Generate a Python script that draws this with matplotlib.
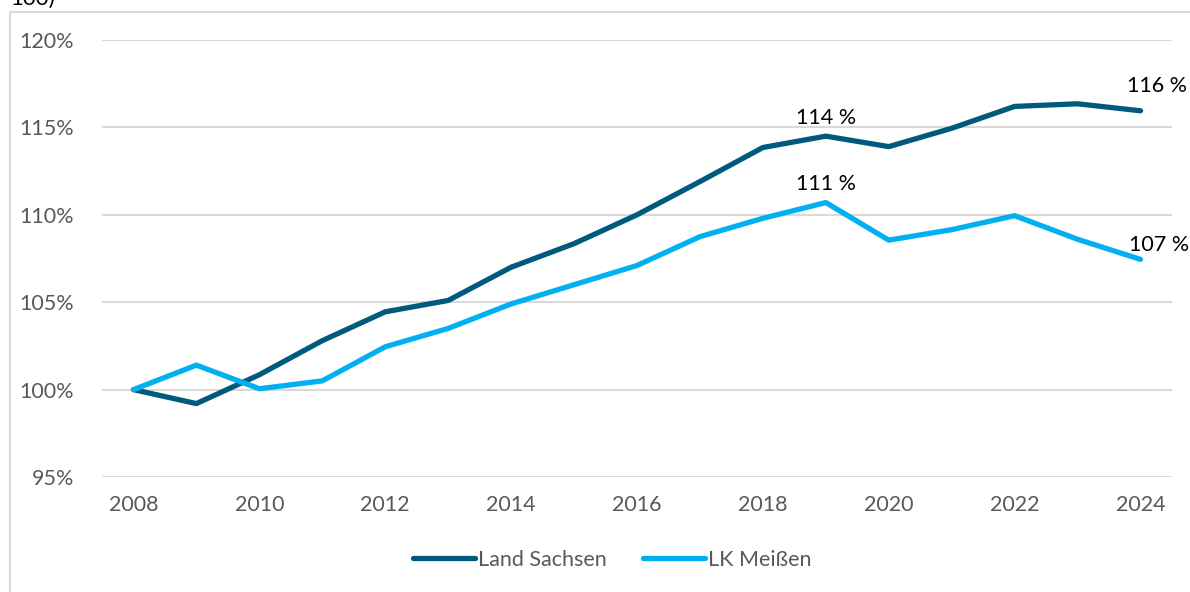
import matplotlib.pyplot as plt
from matplotlib.patches import Rectangle

# data
years = list(range(2008, 2025))
sachsen = [100.0, 99.2, 100.85, 102.8, 104.45, 105.1, 107.0, 108.35, 110.0,
           111.9, 113.85, 114.5, 113.9, 114.95, 116.2, 116.35, 115.95]
meissen = [100.0, 101.4, 100.05, 100.5, 102.45, 103.5, 104.9, 106.0, 107.1,
           108.75, 109.8, 110.7, 108.55, 109.15, 109.95, 108.6, 107.45]
series_names = ['Land Sachsen', 'LK Meißen']
yticks = [95, 100, 105, 110, 115, 120]
xticks = list(range(2008, 2025, 2))
# labelled points: (series, year, text)
labels = [('sachsen', 2019, '114 %'), ('meissen', 2019, '111 %'),
          ('sachsen', 2024, '116 %'), ('meissen', 2024, '107 %')]

plt.rcParams['font.family'] = ['Lato', 'DejaVu Sans']

dark = '#005a7d'
light = '#00b0f0'
gray_txt = '#595959'
fs = 15.5

W, H = 1190, 592
fig = plt.figure(figsize=(W / 100, H / 100), dpi=100)

# chart frame
fig.patches.append(Rectangle((10 / W, -0.1), 1.2, 1 - 12 / H + 0.1,
                             transform=fig.transFigure, fill=False,
                             edgecolor='#d9d9d9', linewidth=1.5))
# remainder of the title above the frame (cut off in the original)
fig.text(10 / W, 1 - 5 / H, '100)', fontsize=16, color='black', va='baseline')

ax = fig.add_axes([102 / W, 1 - 477 / H, (1172 - 102) / W, (477 - 40) / H])
ax.plot(years, sachsen, color=dark, lw=3.8, solid_capstyle='round',
        solid_joinstyle='round', label=series_names[0])
ax.plot(years, meissen, color=light, lw=3.8, solid_capstyle='round',
        solid_joinstyle='round', label=series_names[1])

ax.set_xlim(2007.5, 2024.5)
ax.set_ylim(95, 120)
ax.set_yticks(yticks)
ax.set_yticklabels([f'{v}%' for v in yticks])
ax.set_xticks(xticks)
ax.set_xticklabels([str(v) for v in xticks])
ax.tick_params(length=0, labelsize=fs, labelcolor=gray_txt)
ax.tick_params(axis='y', pad=20)
ax.tick_params(axis='x', pad=13)
ax.grid(axis='y', color='#d9d9d9', lw=1.5)
ax.set_axisbelow(True)
for s in ax.spines.values():
    s.set_visible(False)

# label offsets in points (dx, dy, ha)
offsets = {'114 %': (0, 6, 'center'), '111 %': (0, 6, 'center'),
           '116 %': (-10, 11, 'left'), '107 %': (-8, 3, 'left')}
data = {'sachsen': sachsen, 'meissen': meissen}
for key, yr, txt in labels:
    v = data[key][years.index(yr)]
    dx, dy, ha = offsets[txt]
    ax.annotate(txt, (yr, v), xytext=(dx, dy), textcoords='offset points',
                ha=ha, va='bottom', fontsize=fs, color='black')

leg = fig.legend(loc='center', bbox_to_anchor=(612 / W, 1 - 560 / H), ncol=2,
                 frameon=False, fontsize=fs, handlelength=2.9,
                 handletextpad=0.1, columnspacing=1.7)
for t in leg.get_texts():
    t.set_color(gray_txt)

fig.savefig('out.png', dpi=100)
